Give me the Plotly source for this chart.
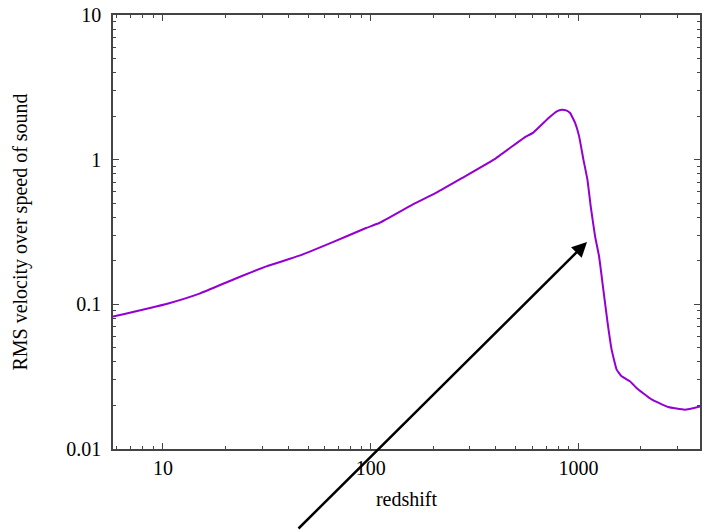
import numpy as np
import plotly.graph_objects as go

# RMS velocity / sound speed as a function of redshift
redshift = [5.75, 10.5, 15.0, 21.7, 31.5, 45.4, 65.3, 95, 110, 159, 206, 276, 391,
            545, 608, 718, 787, 832, 879, 912, 964, 1008, 1057, 1105, 1146, 1203,
            1257, 1318, 1382, 1445, 1528, 1614, 1770, 1904, 2249, 2704, 3251, 3848]
v_rms_over_cs = [0.0822, 0.101, 0.1186, 0.148, 0.183, 0.217, 0.268, 0.337, 0.365,
                 0.489, 0.589, 0.747, 1.0, 1.41, 1.545, 1.94, 2.16, 2.216, 2.18,
                 2.102, 1.793, 1.449, 1.0, 0.727, 0.476, 0.295, 0.215, 0.1264,
                 0.0744, 0.0486, 0.0354, 0.0318, 0.0294, 0.0264, 0.0220, 0.0195,
                 0.0187, 0.0197]

x_tick_vals = [10, 100, 1000]
x_tick_text = ["10", "100", "1000"]
y_tick_vals = [0.01, 0.1, 1, 10]
y_tick_text = ["0.01", "0.1", "1", "10"]

# arrow pointing at the steep drop (tip in data units, tail offset in px)
arrow_tip = (1100, 0.27)
arrow_tail_px = (-290, 297)

FONT = "Liberation Serif, Times New Roman, serif"
AX = "#444444"

fig = go.Figure()
fig.add_trace(go.Scatter(
    x=redshift, y=v_rms_over_cs, mode="lines",
    line=dict(color="#9400D3", width=2, shape="spline", smoothing=0.35),
    showlegend=False, hoverinfo="skip",
))

common = dict(
    type="log", showgrid=False, zeroline=False,
    showline=True, linecolor=AX, linewidth=1.5, mirror="ticks",
    ticks="inside", ticklen=6, tickwidth=1, tickcolor=AX,
    minor=dict(ticks="inside", ticklen=3, tickwidth=1, tickcolor=AX,
               dtick="D1", showgrid=False),
    tickfont=dict(family=FONT, size=20, color="black"),
    title_font=dict(family=FONT, size=20, color="black"),
)

fig.update_xaxes(
    **common,
    range=[np.log10(5.75), np.log10(3848)],
    tickvals=x_tick_vals, ticktext=x_tick_text,
    title_text="redshift", title_standoff=14,
)
fig.update_yaxes(
    **common,
    range=[-2, 1],
    tickvals=y_tick_vals, ticktext=y_tick_text, ticklabelstandoff=6,
    title_text="RMS velocity over speed of sound", title_standoff=33,
)

fig.add_annotation(
    x=np.log10(arrow_tip[0]), y=np.log10(arrow_tip[1]),
    xref="x", yref="y", axref="pixel", ayref="pixel",
    ax=arrow_tail_px[0], ay=arrow_tail_px[1],
    showarrow=True, arrowhead=2, arrowsize=1.2, arrowwidth=2.5,
    arrowcolor="black", standoff=0, text="",
)

fig.update_layout(
    width=702, height=530,
    margin=dict(l=113, r=0, t=15, b=81),
    paper_bgcolor="white", plot_bgcolor="white",
    font=dict(family=FONT, size=20, color="black"),
)

fig.write_html("out.html")
